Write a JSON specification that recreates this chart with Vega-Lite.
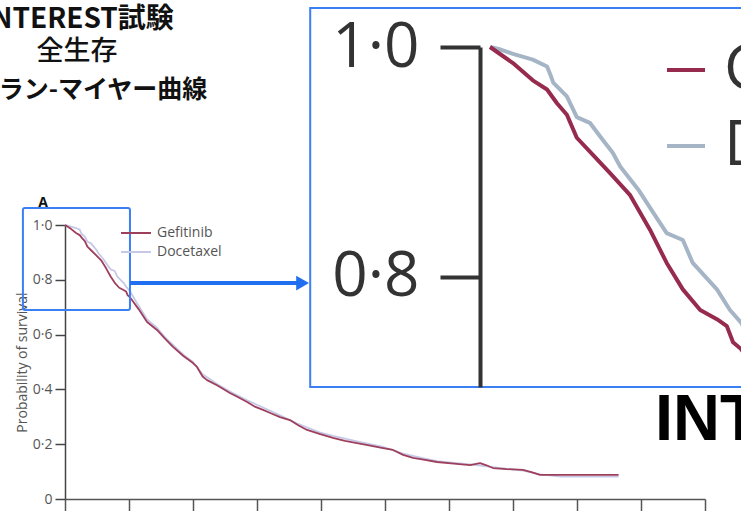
{
  "$schema": "https://vega.github.io/schema/vega-lite/v6.json",
  "width": 640,
  "height": 274,
  "autosize": {"type": "none"},
  "padding": {"left": 65, "top": 225, "right": 36, "bottom": 12},
  "background": "white",
  "config": {"view": {"stroke": null}, "font": "Open Sans"},
  "datasets": {
    "km": [
      {"arm": "Docetaxel", "t": 0, "s": 1.0},
      {"arm": "Docetaxel", "t": 0.16, "s": 0.998},
      {"arm": "Docetaxel", "t": 0.37, "s": 0.994},
      {"arm": "Docetaxel", "t": 0.69, "s": 0.989},
      {"arm": "Docetaxel", "t": 0.92, "s": 0.983},
      {"arm": "Docetaxel", "t": 0.98, "s": 0.975},
      {"arm": "Docetaxel", "t": 1.02, "s": 0.969},
      {"arm": "Docetaxel", "t": 1.24, "s": 0.957},
      {"arm": "Docetaxel", "t": 1.4, "s": 0.939},
      {"arm": "Docetaxel", "t": 1.61, "s": 0.934},
      {"arm": "Docetaxel", "t": 1.82, "s": 0.919},
      {"arm": "Docetaxel", "t": 1.98, "s": 0.908},
      {"arm": "Docetaxel", "t": 2.1, "s": 0.896},
      {"arm": "Docetaxel", "t": 2.39, "s": 0.876},
      {"arm": "Docetaxel", "t": 2.63, "s": 0.856},
      {"arm": "Docetaxel", "t": 2.85, "s": 0.838},
      {"arm": "Docetaxel", "t": 3.11, "s": 0.832},
      {"arm": "Docetaxel", "t": 3.27, "s": 0.812},
      {"arm": "Docetaxel", "t": 3.66, "s": 0.789},
      {"arm": "Docetaxel", "t": 3.87, "s": 0.771},
      {"arm": "Docetaxel", "t": 4.05, "s": 0.76},
      {"arm": "Docetaxel", "t": 4.6, "s": 0.705},
      {"arm": "Docetaxel", "t": 5.13, "s": 0.655},
      {"arm": "Docetaxel", "t": 5.75, "s": 0.625},
      {"arm": "Docetaxel", "t": 6.25, "s": 0.59},
      {"arm": "Docetaxel", "t": 6.75, "s": 0.562},
      {"arm": "Docetaxel", "t": 7.4, "s": 0.527},
      {"arm": "Docetaxel", "t": 8.0, "s": 0.5},
      {"arm": "Docetaxel", "t": 8.6, "s": 0.455},
      {"arm": "Docetaxel", "t": 9.5, "s": 0.42},
      {"arm": "Docetaxel", "t": 10.31, "s": 0.392},
      {"arm": "Docetaxel", "t": 11.38, "s": 0.36},
      {"arm": "Docetaxel", "t": 12.38, "s": 0.334},
      {"arm": "Docetaxel", "t": 13.44, "s": 0.305},
      {"arm": "Docetaxel", "t": 14.6, "s": 0.273},
      {"arm": "Docetaxel", "t": 15.9, "s": 0.243},
      {"arm": "Docetaxel", "t": 16.75, "s": 0.23},
      {"arm": "Docetaxel", "t": 18.25, "s": 0.21},
      {"arm": "Docetaxel", "t": 19.88, "s": 0.19},
      {"arm": "Docetaxel", "t": 21.13, "s": 0.166},
      {"arm": "Docetaxel", "t": 22.5, "s": 0.147},
      {"arm": "Docetaxel", "t": 23.25, "s": 0.138},
      {"arm": "Docetaxel", "t": 25.31, "s": 0.126},
      {"arm": "Docetaxel", "t": 26.75, "s": 0.116},
      {"arm": "Docetaxel", "t": 28.63, "s": 0.104},
      {"arm": "Docetaxel", "t": 29.69, "s": 0.09},
      {"arm": "Docetaxel", "t": 31.0, "s": 0.082},
      {"arm": "Docetaxel", "t": 34.6, "s": 0.082},
      {"arm": "Gefitinib", "t": 0, "s": 1.0},
      {"arm": "Gefitinib", "t": 0.37, "s": 0.986},
      {"arm": "Gefitinib", "t": 0.69, "s": 0.971},
      {"arm": "Gefitinib", "t": 0.92, "s": 0.963},
      {"arm": "Gefitinib", "t": 1.08, "s": 0.951},
      {"arm": "Gefitinib", "t": 1.24, "s": 0.941},
      {"arm": "Gefitinib", "t": 1.4, "s": 0.921},
      {"arm": "Gefitinib", "t": 1.66, "s": 0.906},
      {"arm": "Gefitinib", "t": 1.94, "s": 0.89},
      {"arm": "Gefitinib", "t": 2.26, "s": 0.871},
      {"arm": "Gefitinib", "t": 2.58, "s": 0.841},
      {"arm": "Gefitinib", "t": 2.85, "s": 0.812},
      {"arm": "Gefitinib", "t": 3.11, "s": 0.789},
      {"arm": "Gefitinib", "t": 3.39, "s": 0.771},
      {"arm": "Gefitinib", "t": 3.66, "s": 0.763},
      {"arm": "Gefitinib", "t": 3.82, "s": 0.757},
      {"arm": "Gefitinib", "t": 3.92, "s": 0.743},
      {"arm": "Gefitinib", "t": 4.05, "s": 0.737},
      {"arm": "Gefitinib", "t": 4.6, "s": 0.693},
      {"arm": "Gefitinib", "t": 5.13, "s": 0.646},
      {"arm": "Gefitinib", "t": 5.75, "s": 0.617},
      {"arm": "Gefitinib", "t": 6.25, "s": 0.585},
      {"arm": "Gefitinib", "t": 6.75, "s": 0.555},
      {"arm": "Gefitinib", "t": 7.4, "s": 0.522},
      {"arm": "Gefitinib", "t": 8.0, "s": 0.496},
      {"arm": "Gefitinib", "t": 8.25, "s": 0.482},
      {"arm": "Gefitinib", "t": 8.6, "s": 0.447},
      {"arm": "Gefitinib", "t": 8.88, "s": 0.434},
      {"arm": "Gefitinib", "t": 9.5, "s": 0.415},
      {"arm": "Gefitinib", "t": 10.31, "s": 0.387},
      {"arm": "Gefitinib", "t": 10.8, "s": 0.372},
      {"arm": "Gefitinib", "t": 11.38, "s": 0.354},
      {"arm": "Gefitinib", "t": 11.9, "s": 0.336},
      {"arm": "Gefitinib", "t": 12.38, "s": 0.325},
      {"arm": "Gefitinib", "t": 12.9, "s": 0.312},
      {"arm": "Gefitinib", "t": 13.44, "s": 0.299},
      {"arm": "Gefitinib", "t": 14.06, "s": 0.288},
      {"arm": "Gefitinib", "t": 14.6, "s": 0.268},
      {"arm": "Gefitinib", "t": 15.13, "s": 0.252},
      {"arm": "Gefitinib", "t": 15.9, "s": 0.238},
      {"arm": "Gefitinib", "t": 16.75, "s": 0.223},
      {"arm": "Gefitinib", "t": 17.5, "s": 0.212},
      {"arm": "Gefitinib", "t": 18.25, "s": 0.204},
      {"arm": "Gefitinib", "t": 19.0, "s": 0.196},
      {"arm": "Gefitinib", "t": 19.88, "s": 0.186},
      {"arm": "Gefitinib", "t": 20.5, "s": 0.179},
      {"arm": "Gefitinib", "t": 21.13, "s": 0.161},
      {"arm": "Gefitinib", "t": 21.75, "s": 0.15},
      {"arm": "Gefitinib", "t": 22.5, "s": 0.143},
      {"arm": "Gefitinib", "t": 23.25, "s": 0.135},
      {"arm": "Gefitinib", "t": 24.3, "s": 0.129},
      {"arm": "Gefitinib", "t": 25.31, "s": 0.124},
      {"arm": "Gefitinib", "t": 25.94, "s": 0.131},
      {"arm": "Gefitinib", "t": 26.3, "s": 0.124},
      {"arm": "Gefitinib", "t": 26.75, "s": 0.113},
      {"arm": "Gefitinib", "t": 27.6, "s": 0.109},
      {"arm": "Gefitinib", "t": 28.63, "s": 0.106},
      {"arm": "Gefitinib", "t": 29.2, "s": 0.097},
      {"arm": "Gefitinib", "t": 29.69, "s": 0.088},
      {"arm": "Gefitinib", "t": 34.6, "s": 0.088}
    ]
  },
  "layer": [
    {
      "layer": [
        {
          "data": {"name": "km"},
          "mark": {"type": "line", "strokeWidth": 1.8, "strokeJoin": "round"},
          "encoding": {
            "x": {
              "field": "t", "type": "quantitative",
              "scale": {"domain": [0, 40], "nice": false, "zero": false},
              "axis": {
                "values": [0, 4, 8, 12, 16, 20, 24, 28, 32, 36, 40],
                "labels": false, "title": null, "grid": false,
                "tickSize": 12, "tickWidth": 1.5, "tickColor": "#555",
                "domainWidth": 1.5, "domainColor": "#555"
              }
            },
            "y": {
              "field": "s", "type": "quantitative",
              "scale": {"domain": [0, 1], "nice": false, "zero": false},
              "axis": {
                "values": [0, 0.2, 0.4, 0.6, 0.8, 1],
                "labelExpr": "datum.value == 0 ? '0' : replace(format(datum.value, '.1f'), '.', '·')",
                "title": "Probability of survival",
                "grid": false,
                "tickSize": 10, "tickWidth": 1.5, "tickColor": "#444",
                "domainWidth": 1.5, "domainColor": "#444",
                "labelPadding": 3, "labelFontSize": 14, "labelColor": "#555",
                "titleFontSize": 14, "titleFontWeight": "normal", "titleColor": "#555",
                "titlePadding": 3
              }
            },
            "color": {
              "field": "arm", "type": "nominal",
              "scale": {"domain": ["Gefitinib", "Docetaxel"], "range": ["#9e3f5c", "#c6c8e8"]},
              "legend": {
                "orient": "none", "legendX": 60, "legendY": -3,
                "title": null, "padding": 0,
                "symbolType": "M-1.5,0L1.5,0", "symbolSize": 400, "symbolStrokeWidth": 2,
                "labelFontSize": 14, "labelColor": "#555", "labelOffset": 10,
                "rowPadding": 1
              }
            }
          }
        },
        {
          "data": {"values": [{"t0": -2.63, "t1": 4.06, "s0": 0.69, "s1": 1.062}]},
          "mark": {"type": "rect", "fillOpacity": 0, "stroke": "#3a80f4", "strokeWidth": 2, "cornerRadius": 2},
          "encoding": {
            "x": {"field": "t0", "type": "quantitative"},
            "x2": {"field": "t1"},
            "y": {"field": "s0", "type": "quantitative"},
            "y2": {"field": "s1"}
          }
        },
        {
          "data": {"values": [{"t0": 4.06, "t1": 14.6, "s": 0.788}]},
          "mark": {"type": "rule", "stroke": "#1f6ff0", "strokeWidth": 4},
          "encoding": {
            "x": {"field": "t0", "type": "quantitative"},
            "x2": {"field": "t1"},
            "y": {"field": "s", "type": "quantitative"}
          }
        },
        {
          "data": {"values": [{"t": 14.85, "s": 0.788}]},
          "mark": {"type": "point", "shape": "triangle-right", "filled": true, "fill": "#1f6ff0", "opacity": 1, "size": 220},
          "encoding": {
            "x": {"field": "t", "type": "quantitative"},
            "y": {"field": "s", "type": "quantitative"}
          }
        },
        {
          "data": {"values": [{"label": "A", "t": -1.375, "s": 1.08}]},
          "mark": {"type": "text", "font": "Open Sans", "fontWeight": "bold", "fontSize": 14, "fill": "#111", "align": "center", "baseline": "middle"},
          "encoding": {
            "x": {"field": "t", "type": "quantitative"},
            "y": {"field": "s", "type": "quantitative"},
            "text": {"field": "label"}
          }
        },
        {
          "data": {"values": [{"label": "INTEREST試験", "t": 0.8125, "s": 1.748}]},
          "mark": {"type": "text", "font": "Noto Sans CJK JP", "fontWeight": "bold", "fontSize": 28, "fill": "#111", "align": "center", "baseline": "middle"},
          "encoding": {
            "x": {"field": "t", "type": "quantitative"},
            "y": {"field": "s", "type": "quantitative"},
            "text": {"field": "label"}
          }
        },
        {
          "data": {"values": [{"label": "全生存", "t": 0.75, "s": 1.631}]},
          "mark": {"type": "text", "font": "Noto Sans CJK JP", "fontWeight": 500, "fontSize": 27, "fill": "#111", "align": "center", "baseline": "middle"},
          "encoding": {
            "x": {"field": "t", "type": "quantitative"},
            "y": {"field": "s", "type": "quantitative"},
            "text": {"field": "label"}
          }
        },
        {
          "data": {"values": [{"label": "カプラン-マイヤー曲線", "t": 0.8125, "s": 1.493}]},
          "mark": {"type": "text", "font": "Noto Sans CJK JP", "fontWeight": "bold", "fontSize": 25, "fill": "#111", "align": "center", "baseline": "middle"},
          "encoding": {
            "x": {"field": "t", "type": "quantitative"},
            "y": {"field": "s", "type": "quantitative"},
            "text": {"field": "label"}
          }
        },
        {
          "data": {"values": [{"label": "INTEREST", "t": 36.875, "s": 0.2153}]},
          "mark": {"type": "text", "font": "Liberation Sans", "fontWeight": "bold", "fontSize": 65, "fill": "#000", "align": "left", "baseline": "alphabetic"},
          "encoding": {
            "x": {"field": "t", "type": "quantitative"},
            "y": {"field": "s", "type": "quantitative"},
            "text": {"field": "label"}
          }
        }
      ]
    },
    {
      "layer": [
        {
          "data": {"values": [{"t0": -2.9, "t1": 4.8, "s0": 0.704, "s1": 1.034}]},
          "mark": {"type": "rect", "fill": "white", "stroke": "#3a80f4", "strokeWidth": 2},
          "encoding": {
            "x": {"field": "t0", "type": "quantitative", "axis": null},
            "x2": {"field": "t1"},
            "y": {"field": "s0", "type": "quantitative"},
            "y2": {"field": "s1"}
          }
        },
        {
          "data": {"name": "km"},
          "mark": {"type": "line", "strokeWidth": 4, "strokeJoin": "round"},
          "encoding": {
            "x": {
              "field": "t", "type": "quantitative",
              "scale": {"domain": [0, 4], "range": [425, 673], "nice": false, "zero": false},
              "axis": null
            },
            "y": {
              "field": "s", "type": "quantitative",
              "scale": {"domain": [0.704, 1.0], "range": [162, -178], "nice": false, "zero": false},
              "axis": {
                "orient": "left", "offset": -415, "zindex": 1,
                "values": [0.8, 1.0],
                "labelExpr": "replace(format(datum.value, '.1f'), '.', '·')",
                "title": null, "grid": false,
                "tickSize": 40, "tickWidth": 4, "tickColor": "#333",
                "domainWidth": 4, "domainColor": "#333",
                "labelPadding": 21, "labelFontSize": 62, "labelColor": "#333"
              }
            },
            "color": {
              "field": "arm", "type": "nominal",
              "scale": {"domain": ["Gefitinib", "Docetaxel"], "range": ["#962b4e", "#a6b5c6"]},
              "legend": {
                "orient": "none", "legendX": 590, "legendY": -186,
                "title": null, "padding": 0,
                "symbolType": "stroke", "symbolSize": 1444, "symbolStrokeWidth": 4,
                "labelFontSize": 62, "labelColor": "#333", "labelOffset": 7,
                "rowPadding": 14
              }
            }
          }
        }
      ]
    }
  ],
  "resolve": {"scale": {"x": "independent", "y": "independent", "color": "independent"}}
}
